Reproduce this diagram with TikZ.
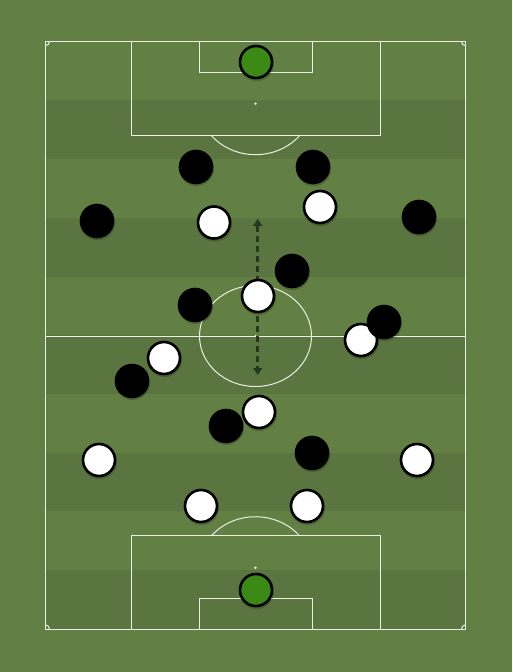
\documentclass[tikz,border=0pt]{standalone}
\usetikzlibrary{arrows.meta}
\definecolor{grassL}{RGB}{98,128,67}
\definecolor{grassD}{RGB}{90,117,63}
\definecolor{lineW}{RGB}{235,240,228}
\definecolor{gkgreen}{RGB}{59,138,22}
\definecolor{arrowc}{RGB}{40,56,30}
\tikzset{
  pline/.style={draw=lineW, line width=1pt},
  player/.style={circle, minimum size=32pt, inner sep=0pt, line width=2.6pt, draw=black},
  whitep/.style={player, fill=white},
  blackp/.style={player, fill=black},
  keeper/.style={player, fill=gkgreen},
  shadowp/.style={circle, minimum size=35pt, inner sep=0pt, fill=black, fill opacity=0.18},
  runarrow/.style={draw=arrowc, line width=2.8pt, dash pattern=on 6pt off 4pt, {Triangle[length=7pt,width=9pt]}-{Triangle[length=7pt,width=9pt]}}
}
\begin{document}
\begin{tikzpicture}[x=1pt,y=-1pt]
\useasboundingbox (0,0) rectangle (512,672);
\fill[grassL] (0,0) rectangle (512,672);
% stripes
\foreach \k in {1,3,5,7,9} {
  \fill[grassD] (45.5,{41.7+\k*58.7}) rectangle (465.5,{41.7+(\k+1)*58.7});
}
% pitch lines
\draw[pline] (45.5,41.7) rectangle (465.5,629);
\draw[pline] (45.5,336) -- (465.5,336);
\draw[pline] (255.5,336) ellipse [x radius=56, y radius=50.5];
\fill[lineW] (255.5,336) circle (1.2);
% top
\draw[pline] (131.3,41.7) rectangle (380.7,135.3);
\draw[pline] (199.3,41.7) rectangle (312.3,72.7);
\fill[lineW] (255.5,103.7) circle (1.3);
\draw[pline] (211.2,135.3) arc[start angle=141.7, end angle=38.3, x radius=56.5, y radius=51];
% bottom
\draw[pline] (131.3,535.7) rectangle (380.7,629);
\draw[pline] (199.3,598.3) rectangle (312.3,629);
\fill[lineW] (255.5,567.7) circle (1.3);
\draw[pline] (211.5,535.7) arc[start angle=218.9, end angle=321.1, x radius=56.5, y radius=51];
% corners
\draw[pline] (49.5,41.7) arc[start angle=0, end angle=90, radius=4];
\draw[pline] (461.5,41.7) arc[start angle=180, end angle=90, radius=4];
\draw[pline] (49.5,629) arc[start angle=0, end angle=-90, radius=4];
\draw[pline] (461.5,629) arc[start angle=180, end angle=270, radius=4];
% arrow
\coordinate (runA) at (257.7,219);
\coordinate (runB) at (257.7,375);
\draw[runarrow] (runA) -- (runB);
% shadows
\foreach \x/\y in {256/62,256/590,214/222.5,320/207,258/296,361/340,164/358,259/412,99/460,417/460,201/506,307/506,196/167,313/167,97/221,419/217,292/271,195/305,384/322,132/381,226/426,312/453}{
  \node[shadowp] at (\x+0.6,\y+1.6) {};
}
% keepers
\node[keeper] (gkTop) at (256,62) {};
\node[keeper] (gkBot) at (256,590) {};
% white team
\node[whitep] (w1) at (214,222.5) {};
\node[whitep] (w2) at (320,207) {};
\node[whitep] (w3) at (258,296) {};
\node[whitep] (w4) at (361,340) {};
\node[whitep] (w5) at (164,358) {};
\node[whitep] (w6) at (259,412) {};
\node[whitep] (w7) at (99,460) {};
\node[whitep] (w8) at (417,460) {};
\node[whitep] (w9) at (201,506) {};
\node[whitep] (w10) at (307,506) {};
% black team
\node[blackp] (b1) at (196,167) {};
\node[blackp] (b2) at (313,167) {};
\node[blackp] (b3) at (97,221) {};
\node[blackp] (b4) at (419,217) {};
\node[blackp] (b5) at (292,271) {};
\node[blackp] (b6) at (195,305) {};
\node[blackp] (b7) at (384,322) {};
\node[blackp] (b8) at (132,381) {};
\node[blackp] (b9) at (226,426) {};
\node[blackp] (b10) at (312,453) {};
\end{tikzpicture}
\end{document}
